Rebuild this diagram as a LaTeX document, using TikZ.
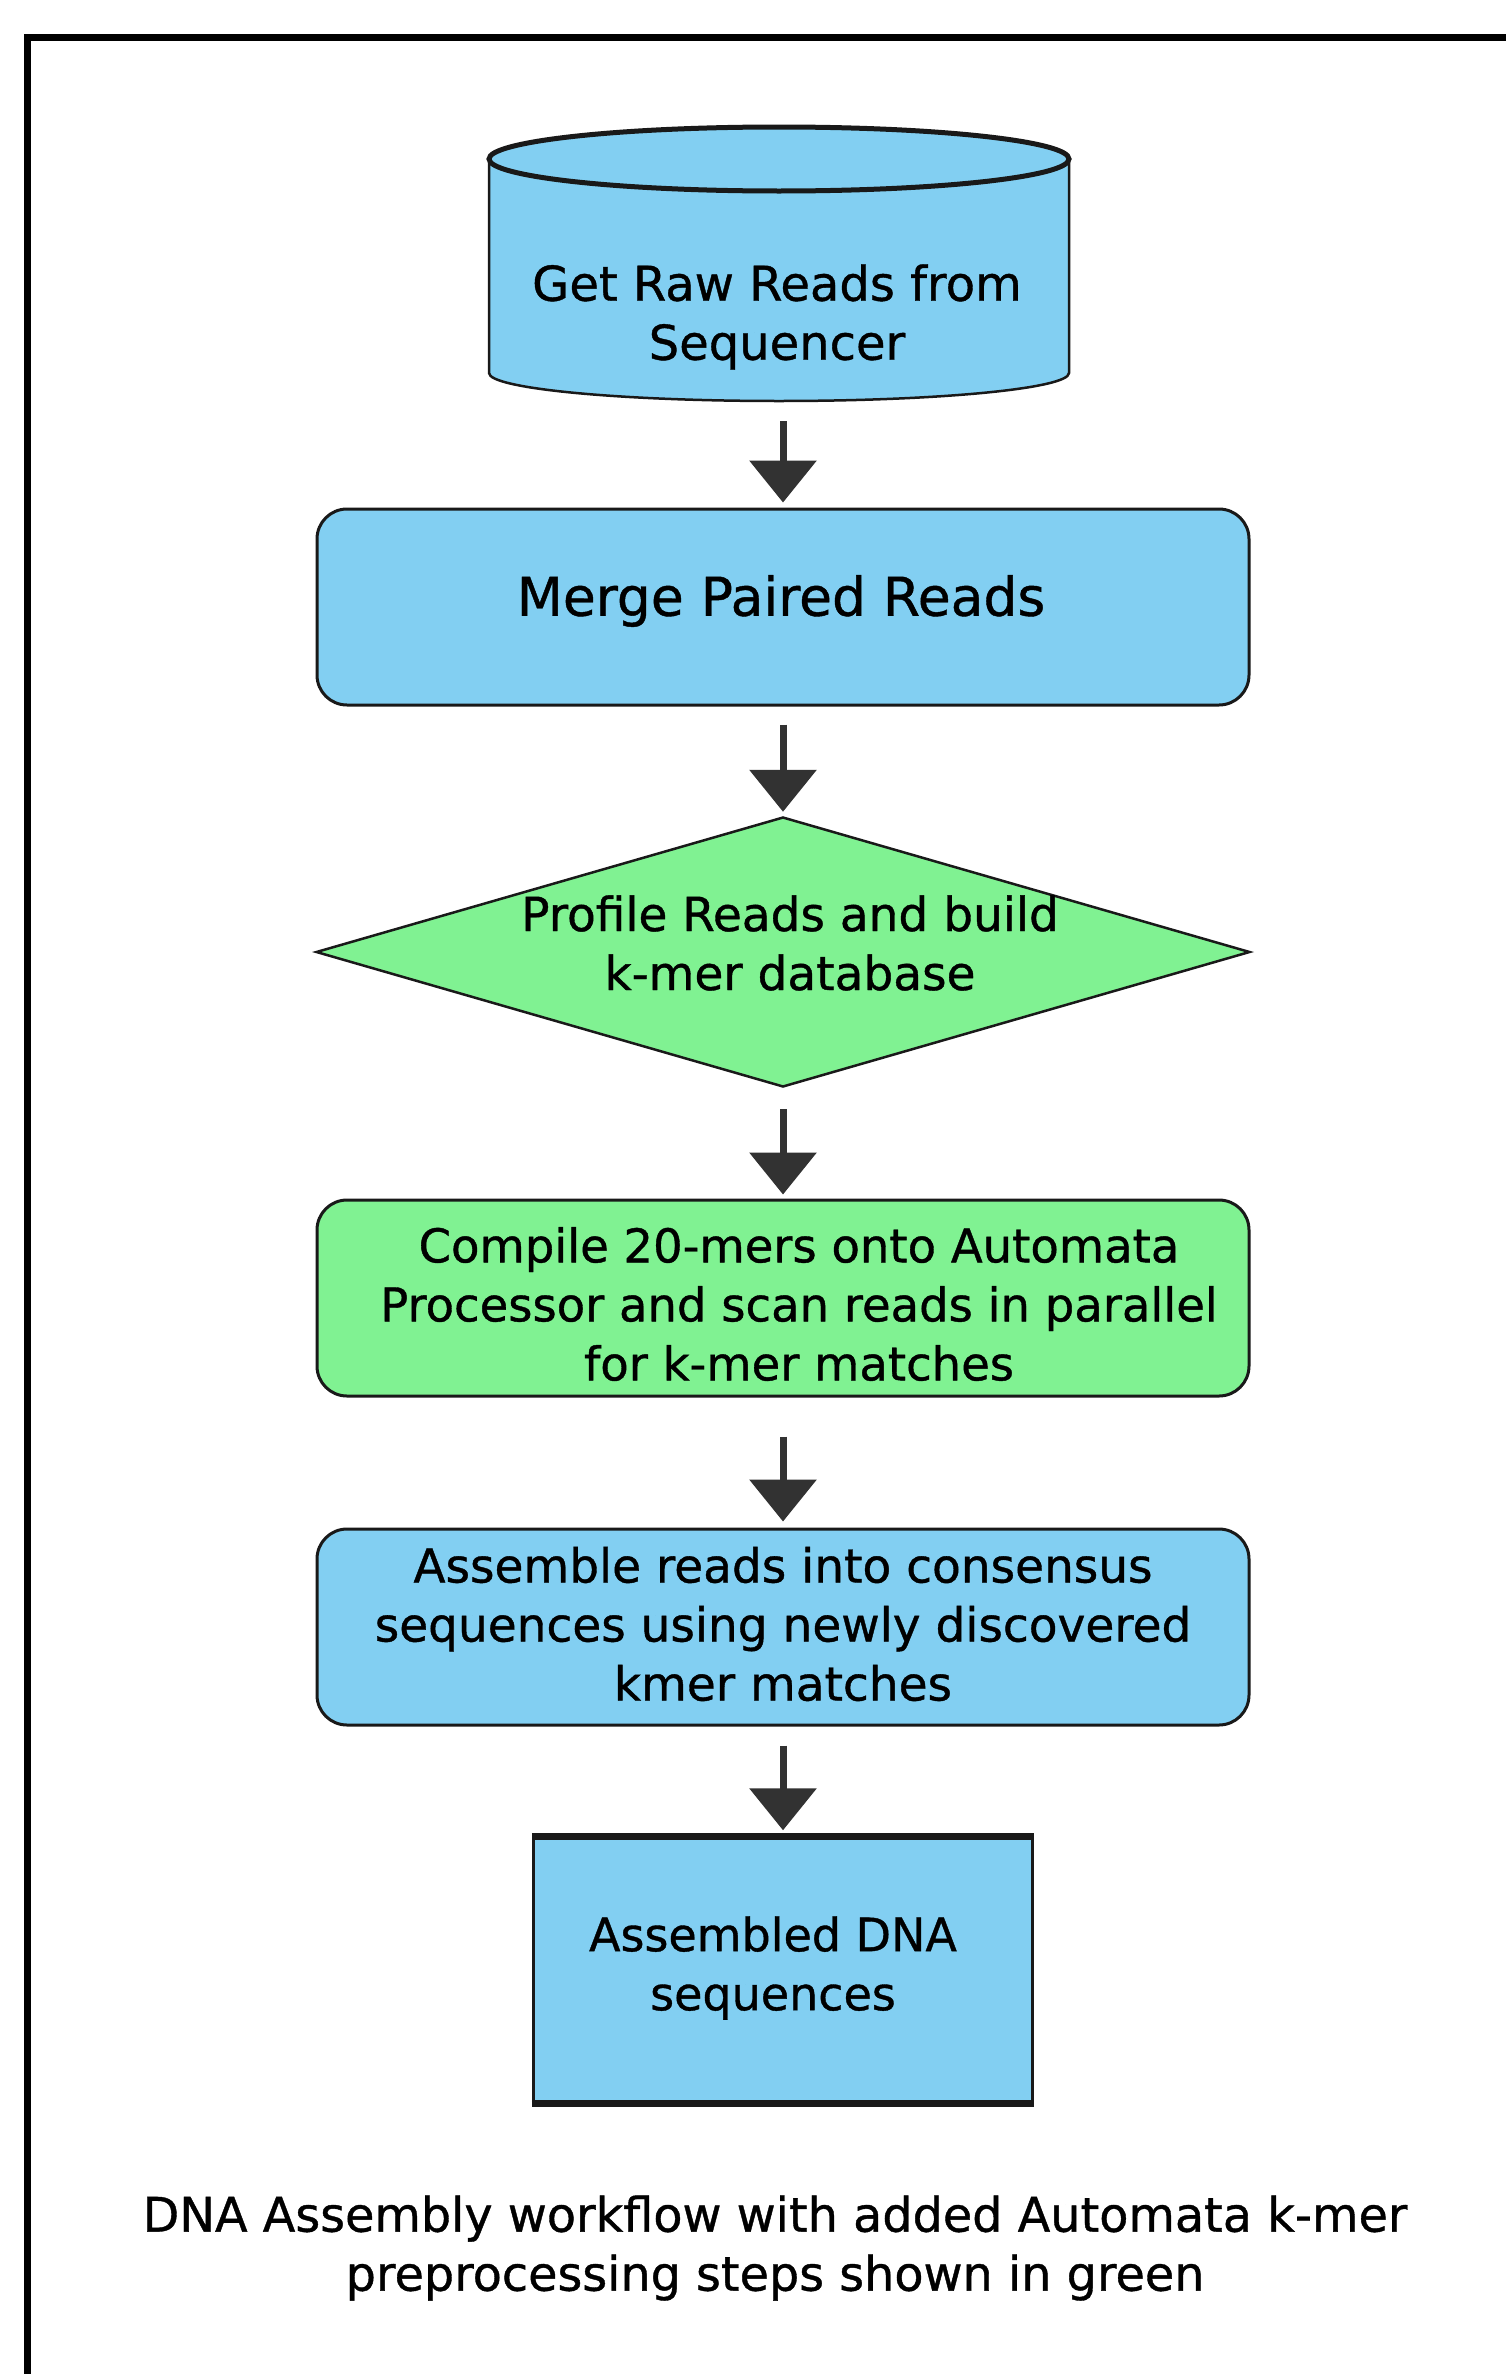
\documentclass[tikz,border=0pt]{standalone}
\usepackage{fontspec}
\setmainfont{DejaVu Sans}[FakeBold=0.8]
\usetikzlibrary{arrows.meta,shapes.geometric}
\definecolor{skyfill}{RGB}{130,207,242}
\definecolor{mintfill}{RGB}{128,242,146}
\definecolor{arrowgray}{RGB}{50,50,50}
\definecolor{edgegray}{RGB}{25,25,25}
\newcommand{\fsz}[1]{\fontsize{#1}{59}\selectfont}
\begin{document}
\begin{tikzpicture}[x=1pt,y=-1pt,
  txt/.style={align=center, text=black, inner sep=0pt},
  roundbox/.style={draw=edgegray, line width=3pt, rounded corners=30pt, inner sep=0pt, minimum width=932pt, minimum height=196pt},
  flowarrow/.style={draw=arrowgray, line width=7pt, -{Triangle[length=42pt,width=66pt]}},
]
\path[use as bounding box] (0,0) rectangle (1506,2374);
\fill[white] (0,0) rectangle (1506,2374);
% frame (clipped at right and bottom)
\draw[line width=7pt, black] (27,2374) -- (27,38) -- (1506,38);

% cylinder
\fill[skyfill] (489,159) rectangle (1069,373);
\fill[skyfill] (779,373) ellipse [x radius=290, y radius=28];
\draw[edgegray, line width=2.5pt] (489,159) -- (489,373) arc[start angle=180, end angle=0, x radius=290, y radius=28] -- (1069,159);
\filldraw[fill=skyfill, draw=edgegray, line width=5pt] (779,159) ellipse [x radius=290, y radius=32];
\node[inner sep=0pt, minimum width=580pt, minimum height=272pt] (raw) at (783,265) {};
\node[txt, font=\fsz{48}] (rawtext) at (777,317) {Get Raw Reads from\\Sequencer};

% merge
\node[roundbox, fill=skyfill] (merge) at (783,607) {};
\node[txt, font=\fsz{53.5}] (mergetext) at (781,601) {Merge Paired Reads};

% profile diamond
\node[diamond, draw=edgegray, line width=2.5pt, fill=mintfill, minimum width=934pt, minimum height=270pt, inner sep=0pt] (profile) at (783,952) {};
\node[txt, font=\fsz{47}] (profiletext) at (790,943) {Profile Reads and build\\k-mer database};

% compile
\node[roundbox, fill=mintfill] (compile) at (783,1298) {};
\node[txt, font=\fsz{46.5}] (compiletext) at (799,1304) {Compile 20-mers onto Automata\\Processor and scan reads in parallel\\for k-mer matches};

% assemble
\node[roundbox, fill=skyfill] (assemble) at (783,1627) {};
\node[txt, font=\fsz{47}] (assembletext) at (783,1624) {Assemble reads into consensus\\sequences using newly discovered\\kmer matches};

% final
\node[draw=edgegray, line width=3.5pt, fill=skyfill, minimum width=499pt, minimum height=264pt, inner sep=0pt] (final) at (783,1970) {};
\draw[edgegray, line width=6pt] (final.north west) -- (final.north east);
\draw[edgegray, line width=6pt] (final.south west) -- (final.south east);
\node[txt, font=\fsz{46}] (finaltext) at (773,1968) {Assembled DNA\\sequences};

% caption
\node[txt, font=\fsz{47.7}] (caption) at (775,2248) {DNA Assembly workflow with added Automata k-mer\\preprocessing steps shown in green};

% arrows
\draw[flowarrow, shorten <=20pt, shorten >=5pt] (raw.south) -- (merge.north);
\draw[flowarrow, shorten <=18pt, shorten >=4pt] (merge.south) -- (profile.north);
\draw[flowarrow, shorten <=21pt, shorten >=4pt] (profile.south) -- (compile.north);
\draw[flowarrow, shorten <=39pt, shorten >=6pt] (compile.south) -- (assemble.north);
\draw[flowarrow, shorten <=19pt, shorten >=6pt] (assemble.south) -- (final.north);
\end{tikzpicture}
\end{document}
